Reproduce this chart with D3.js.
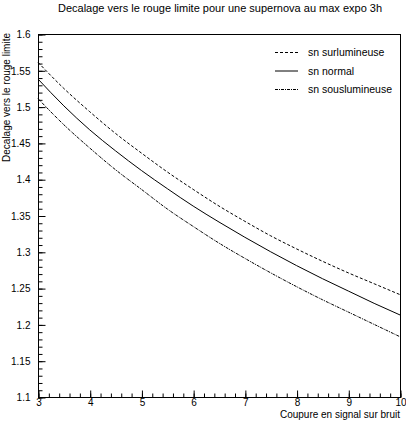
<!DOCTYPE html>
<html>
<head>
<meta charset="utf-8">
<script src="https://cdn.jsdelivr.net/npm/d3@7"></script>
<style>
  body { margin: 0; background: #fff; }
  text { font-family: "Liberation Sans", Arial, sans-serif; fill: #000; }
</style>
</head>
<body>
<svg id="chart" width="406" height="423"></svg>
<script>
// values
const cuts = [3, 3.5, 4, 4.5, 5, 5.5, 6, 6.5, 7, 7.5, 8, 8.5, 9, 9.5, 10]
const surlumineuse = [1.561, 1.525, 1.493, 1.463, 1.436, 1.410, 1.386, 1.363, 1.342, 1.322, 1.304, 1.287, 1.271, 1.256, 1.241]
const normal = [1.538, 1.501, 1.468, 1.439, 1.412, 1.387, 1.363, 1.341, 1.320, 1.300, 1.281, 1.263, 1.246, 1.229, 1.213]
const souslumineuse = [1.511, 1.475, 1.443, 1.413, 1.386, 1.359, 1.335, 1.312, 1.291, 1.271, 1.252, 1.234, 1.217, 1.200, 1.183]

const xTicks = [3, 4, 5, 6, 7, 8, 9, 10]
const yTicks = [1.1, 1.15, 1.2, 1.25, 1.3, 1.35, 1.4, 1.45, 1.5, 1.55, 1.6]
const seriesNames = ['sn surlumineuse', 'sn normal', 'sn souslumineuse']

const margin = {top: 34, right: 6, bottom: 26, left: 38}
const width = 406 - margin.left - margin.right
const height = 423 - margin.top - margin.bottom

const svg = d3.select('#chart')

const xScale = d3.scaleLinear().domain([3, 10]).range([margin.left, margin.left + width])
const yScale = d3.scaleLinear().domain([1.1, 1.6]).range([margin.top + height, margin.top])

// title and axis titles
svg.append('text')
  .attr('x', 220).attr('y', 12)
  .attr('text-anchor', 'middle')
  .style('font-size', '11px')
  .text('Decalage vers le rouge limite pour une supernova au max expo 3h')

svg.append('text')
  .attr('transform', 'translate(9.5,' + (margin.top - 1) + ') rotate(-90)')
  .attr('text-anchor', 'end')
  .style('font-size', '10px')
  .text('Decalage vers le rouge limite')

svg.append('text')
  .attr('x', margin.left + width).attr('y', 418)
  .attr('text-anchor', 'end')
  .style('font-size', '10px')
  .text('Coupure en signal sur bruit')

// frame
svg.append('rect')
  .attr('x', margin.left + 0.5).attr('y', margin.top + 0.5)
  .attr('width', width).attr('height', height)
  .attr('fill', 'none').attr('stroke', '#000')

const fmt = d => String(+d.toFixed(2))

// minor ticks
const xMinor = d3.range(3, 10.001, 0.2)
const yMinor = d3.range(1.1, 1.6001, 0.01)

svg.append('g')
  .attr('transform', 'translate(0.5,' + (margin.top + height + 0.5) + ')')
  .call(d3.axisBottom(xScale).tickValues(xMinor).tickSizeInner(-4).tickSizeOuter(0).tickFormat(''))
  .call(g => g.select('.domain').remove())

svg.append('g')
  .attr('transform', 'translate(' + (margin.left + 0.5) + ',0.5)')
  .call(d3.axisLeft(yScale).tickValues(yMinor).tickSizeInner(-4).tickSizeOuter(0).tickFormat(''))
  .call(g => g.select('.domain').remove())

// major ticks
const xAxis = svg.append('g')
  .attr('transform', 'translate(0.5,' + (margin.top + height + 0.5) + ')')
  .call(d3.axisBottom(xScale).tickValues(xTicks).tickSizeInner(-7).tickSizeOuter(0).tickPadding(3).tickFormat(fmt))
xAxis.select('.domain').remove()
xAxis.selectAll('text').style('font-size', '10px').attr('dy', '0.5em')

const yAxis = svg.append('g')
  .attr('transform', 'translate(' + (margin.left + 0.5) + ',0.5)')
  .call(d3.axisLeft(yScale).tickValues(yTicks).tickSizeInner(-7).tickSizeOuter(0).tickPadding(8).tickFormat(fmt))
yAxis.select('.domain').remove()
yAxis.selectAll('text').style('font-size', '10px')

// curves
const dashes = ['3,2', null, '3,1,1,1']
const line = d3.line()
  .x(d => xScale(d[0]))
  .y(d => yScale(d[1]))
  .curve(d3.curveMonotoneX)

;[surlumineuse, normal, souslumineuse].forEach((vals, i) => {
  svg.append('path')
    .datum(cuts.map((c, j) => [c, vals[j]]))
    .attr('d', line)
    .attr('fill', 'none')
    .attr('stroke', '#000')
    .attr('stroke-width', 1)
    .attr('stroke-dasharray', dashes[i])
})

// legend
const legend = svg.append('g')
seriesNames.forEach((name, i) => {
  const ly = 52.5 + i * 18.5
  legend.append('line')
    .attr('x1', 275).attr('x2', 298)
    .attr('y1', ly).attr('y2', ly)
    .attr('stroke', '#000')
    .attr('stroke-dasharray', dashes[i])
  legend.append('text')
    .attr('x', 308).attr('y', ly + 3.5)
    .style('font-size', '10.5px')
    .text(name)
})
</script>
</body>
</html>
